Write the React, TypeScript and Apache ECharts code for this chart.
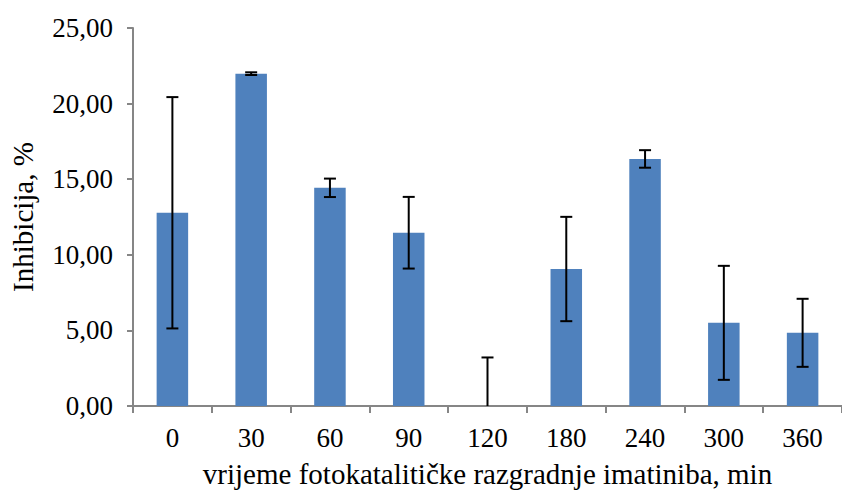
import React, { useEffect, useRef } from "react";
import * as echarts from "echarts";

// Photocatalytic degradation of imatinib: inhibition (%) per sampling time
const times = ["0", "30", "60", "90", "120", "180", "240", "300", "360"];
const inhibition = [12.78, 21.98, 14.43, 11.46, 0, 9.06, 16.34, 5.5, 4.84];
const stdDev = [7.65, 0.09, 0.61, 2.37, 3.21, 3.45, 0.58, 3.77, 2.25];
const yTicks = [0, 5, 10, 15, 20, 25];

const FONT = "'Liberation Serif', 'Times New Roman', serif";
const AXIS_GREY = "#868686";

export default function App() {
  const ref = useRef<HTMLDivElement>(null);

  useEffect(() => {
    if (!ref.current) return;
    const chart = echarts.init(ref.current, null, { renderer: "svg" });

    const errorData = inhibition.map((v, i) => [i, v - stdDev[i], v + stdDev[i]]);

    chart.setOption({
      animation: false,
      backgroundColor: "#ffffff",
      grid: { left: 128, top: 28, width: 723, height: 379, containLabel: false },
      xAxis: {
        type: "category",
        data: times,
        name: "vrijeme fotokatalitičke razgradnje imatiniba, min",
        nameLocation: "middle",
        nameGap: 53,
        nameTextStyle: { fontFamily: FONT, fontSize: 29, color: "#000" },
        axisLine: { lineStyle: { color: AXIS_GREY, width: 2 } },
        axisTick: { show: true, length: 7, alignWithLabel: false, lineStyle: { color: AXIS_GREY, width: 2 } },
        axisLabel: { fontFamily: FONT, fontSize: 27, color: "#000", margin: 18 },
        splitLine: { show: false },
      },
      yAxis: {
        type: "value",
        min: yTicks[0],
        max: yTicks[yTicks.length - 1],
        interval: 5,
        name: "Inhibicija, %",
        nameLocation: "middle",
        nameGap: 96,
        nameTextStyle: { fontFamily: FONT, fontSize: 29, color: "#000" },
        axisLine: { show: true, lineStyle: { color: AXIS_GREY, width: 2 } },
        axisTick: { show: true, length: 6, lineStyle: { color: AXIS_GREY, width: 2 } },
        axisLabel: {
          fontFamily: FONT,
          fontSize: 27,
          color: "#000",
          margin: 20,
          formatter: (v: number) => v.toFixed(2).replace(".", ","),
        },
        splitLine: { show: false },
      },
      series: [
        {
          type: "bar",
          data: inhibition,
          barWidth: "40%",
          itemStyle: { color: "#4F81BD" },
        },
        {
          type: "custom",
          data: errorData,
          z: 10,
          renderItem: (params: any, api: any) => {
            const idx = api.value(0);
            const lowVal = api.value(1);
            const highVal = api.value(2);
            const clipped = lowVal < 0;
            const high = api.coord([idx, highVal]);
            const low = api.coord([idx, Math.max(0, lowVal)]);
            const half = 6;
            const style = { stroke: "#000", lineWidth: 2 };
            const children: any[] = [
              { type: "line", shape: { x1: high[0], y1: high[1], x2: low[0], y2: low[1] }, style },
              { type: "line", shape: { x1: high[0] - half, y1: high[1], x2: high[0] + half, y2: high[1] }, style },
            ];
            if (!clipped) {
              children.push({ type: "line", shape: { x1: low[0] - half, y1: low[1], x2: low[0] + half, y2: low[1] }, style });
            }
            return { type: "group", children };
          },
        },
      ],
    });

    return () => chart.dispose();
  }, []);

  return <div ref={ref} style={{ width: 842, height: 493, position: "absolute", left: 0, top: 0 }} />;
}
